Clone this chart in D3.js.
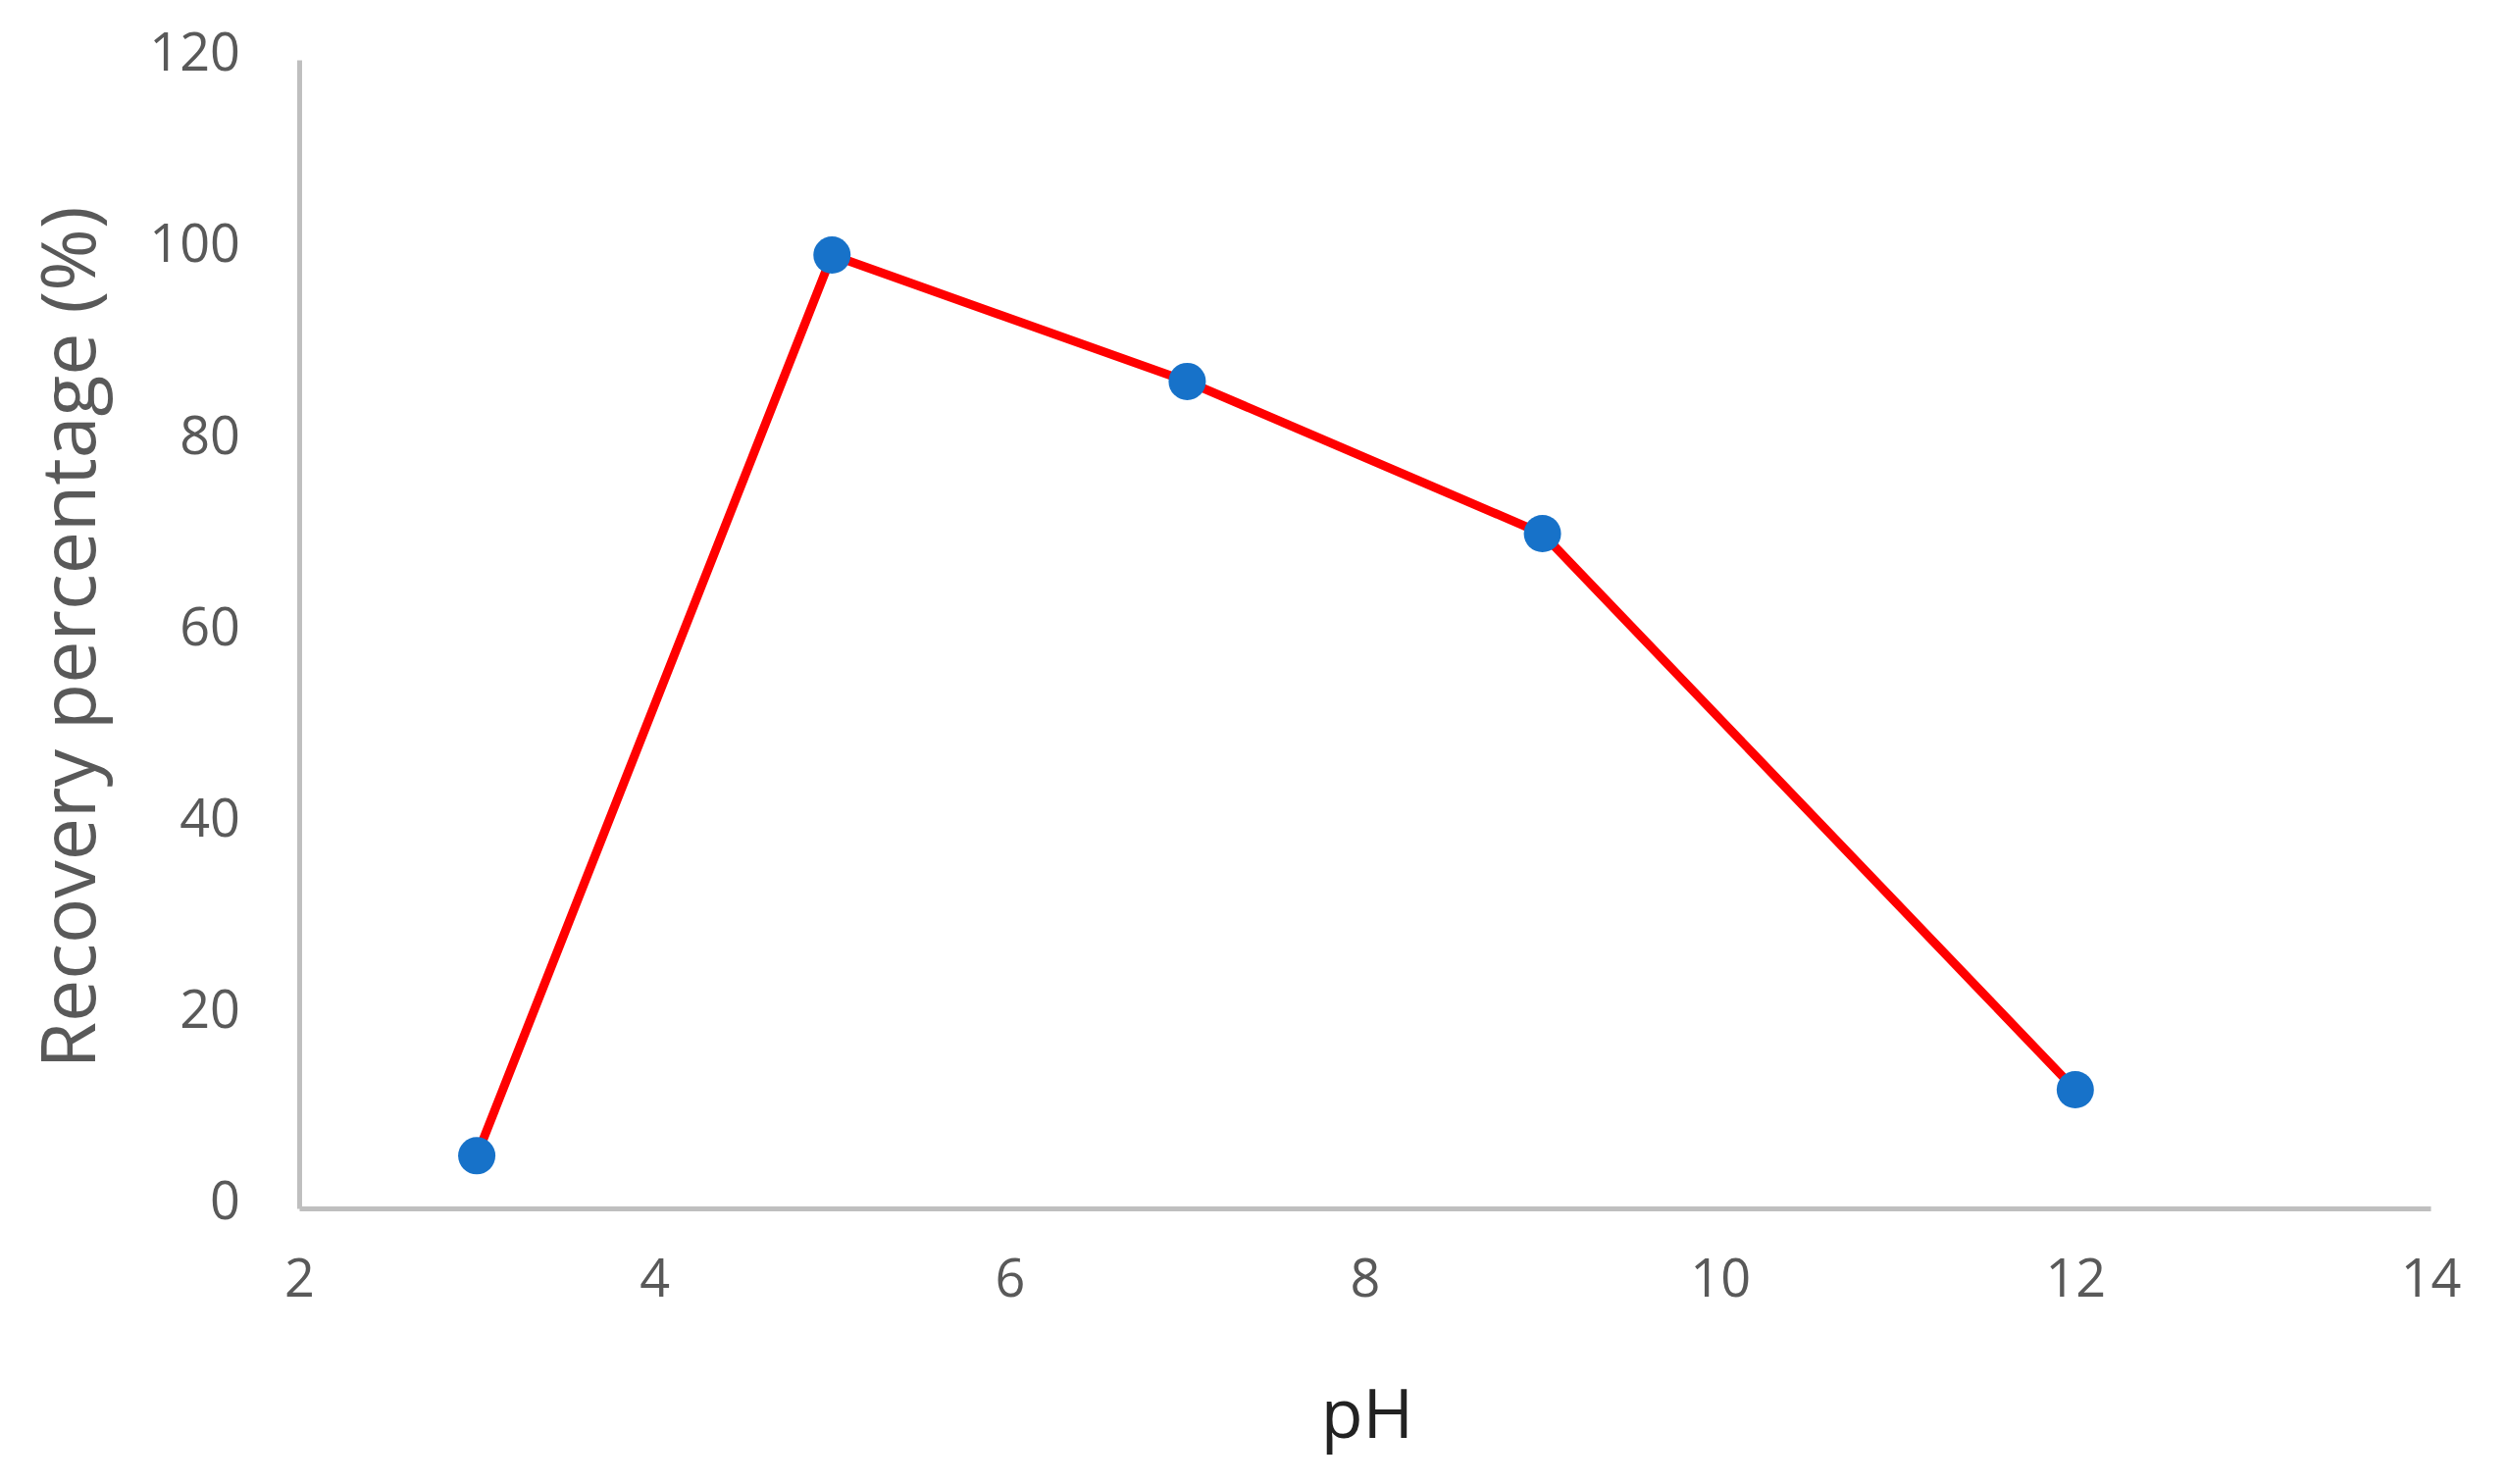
<!DOCTYPE html>
<html><head><meta charset="utf-8">
<script src="https://cdn.jsdelivr.net/npm/d3@7"></script>
<style>body{margin:0;background:#fff}</style></head>
<body><svg id="c" width="2557" height="1513"></svg>
<script>
const phValues = [3, 5, 7, 9, 12];
const recovery = [5.5, 99.6, 86.4, 70.5, 12.4];
const xTicks = [2, 4, 6, 8, 10, 12, 14];
const yTicks = [0, 20, 40, 60, 80, 100, 120];

const svg = d3.select("#c");
const x = d3.scaleLinear().domain([2, 14]).range([305, 2478]);
const y = d3.scaleLinear().domain([0, 120]).range([1232, 61]);
const font = "'Open Sans', sans-serif";
const col = "#595959";

const xa = svg.append("g").attr("transform", "translate(0,1232)")
  .call(d3.axisBottom(x).tickValues(xTicks).tickSize(0).tickPadding(52));
xa.select(".domain").attr("stroke", "#bfbfbf").attr("stroke-width", 5);
xa.selectAll("text").attr("font-family", font).attr("font-size", 54).attr("fill", col);

const ya = svg.append("g").attr("transform", "translate(305,0)")
  .call(d3.axisLeft(y).tickValues(yTicks).tickSize(0).tickPadding(60));
ya.select(".domain").attr("stroke", "#bfbfbf").attr("stroke-width", 5);
ya.selectAll("text").attr("font-family", font).attr("font-size", 54).attr("fill", col).attr("dy", "0.2em");

const pts = phValues.map((v, i) => [v, recovery[i]]);
svg.append("path").datum(pts)
  .attr("d", d3.line().x(d => x(d[0])).y(d => y(d[1])))
  .attr("fill", "none").attr("stroke", "#ff0000").attr("stroke-width", 9).attr("stroke-linejoin", "round");
svg.selectAll("circle.p").data(pts).join("circle")
  .attr("cx", d => x(d[0])).attr("cy", d => y(d[1])).attr("r", 19).attr("fill", "#1772c9");

svg.append("text").attr("x", 1394).attr("y", 1466).attr("text-anchor", "middle")
  .attr("font-family", font).attr("font-size", 70).attr("fill", "#222").text("pH");
svg.append("text").attr("transform", "translate(97,650) rotate(-90)").attr("text-anchor", "middle")
  .attr("font-family", font).attr("font-size", 77).attr("fill", col).text("Recovery percentage (%)");
</script></body></html>
